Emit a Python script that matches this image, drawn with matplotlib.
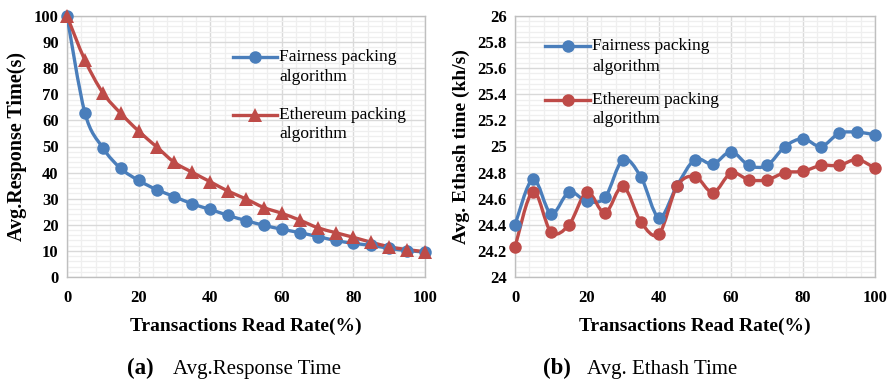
import numpy as np
import matplotlib
matplotlib.use("Agg")
import matplotlib.pyplot as plt
from matplotlib.path import Path
from matplotlib.patches import PathPatch
from matplotlib.lines import Line2D
from matplotlib.ticker import MultipleLocator, FormatStrFormatter

# ---------------- data ----------------
read_rate = [0, 5, 10, 15, 20, 25, 30, 35, 40, 45, 50, 55, 60, 65, 70, 75, 80, 85, 90, 95, 100]

resp_fair = [100, 62.9, 49.5, 41.6, 37.0, 33.5, 30.8, 28.0, 25.9, 23.6, 21.6, 19.8, 18.3, 17.0,
             15.5, 14.0, 12.9, 12.1, 11.0, 10.1, 9.6]
resp_eth = [100, 83.1, 70.6, 62.7, 55.9, 49.9, 43.9, 40.1, 36.5, 32.9, 29.9, 26.6, 24.4, 21.8,
            18.9, 17.0, 15.2, 13.3, 11.6, 10.5, 9.7]

ethash_fair = [24.40, 24.75, 24.485, 24.65, 24.58, 24.61, 24.90, 24.765, 24.455, 24.70, 24.90,
               24.865, 24.96, 24.855, 24.855, 25.00, 25.06, 25.00, 25.10, 25.11, 25.09]
ethash_eth = [24.23, 24.655, 24.345, 24.40, 24.65, 24.49, 24.695, 24.42, 24.33, 24.695, 24.77,
              24.647, 24.796, 24.745, 24.745, 24.80, 24.81, 24.855, 24.855, 24.90, 24.834]

label_fair = "Fairness packing\nalgorithm"
label_eth = "Ethereum packing\nalgorithm"

BLUE = "#4A7EBB"
RED = "#BE4B48"
SERIF = ["Liberation Serif", "DejaVu Serif"]
W, H = 891, 388
LW = 2.4


def smooth_path(x, y):
    """Excel-like smoothed line: cubic Bezier (Catmull-Rom) through the data points."""
    p = np.column_stack([x, y]).astype(float)
    n = len(p)
    verts = [p[0]]
    codes = [Path.MOVETO]
    for i in range(n - 1):
        p0 = p[i - 1] if i > 0 else p[i]
        p1 = p[i]
        p2 = p[i + 1]
        p3 = p[i + 2] if i + 2 < n else p[i + 1]
        c1 = p1 + (p2 - p0) / 6.0
        c2 = p2 - (p3 - p1) / 6.0
        verts += [c1, c2, p2]
        codes += [Path.CURVE4] * 3
    return Path(verts, codes)


def style_axes(ax, ymin, ymax, ymaj, ymin_step, fmt):
    ax.set_xlim(0, 100)
    ax.set_ylim(ymin, ymax)
    ax.xaxis.set_major_locator(MultipleLocator(20))
    ax.xaxis.set_minor_locator(MultipleLocator(4))
    ax.yaxis.set_major_locator(MultipleLocator(ymaj))
    ax.yaxis.set_minor_locator(MultipleLocator(ymin_step))
    ax.yaxis.set_major_formatter(FormatStrFormatter(fmt))
    ax.grid(which="minor", color="#efefef", linewidth=0.9, zorder=0)
    ax.grid(which="major", color="#d9d9d9", linewidth=1.0, zorder=0)
    ax.set_axisbelow(True)
    for s in ax.spines.values():
        s.set_color("#bfbfbf")
        s.set_linewidth(1.0)
    ax.tick_params(which="both", length=0)
    ax.tick_params(axis="x", pad=9)
    ax.tick_params(axis="y", pad=6)
    for lab in ax.get_xticklabels() + ax.get_yticklabels():
        lab.set_fontfamily(SERIF)
        lab.set_fontweight("bold")
        lab.set_fontsize(12)
    ax.set_xlabel("Transactions Read Rate(%)", fontfamily=SERIF, fontweight="bold",
                  fontsize=14, labelpad=9)


def draw_series(ax, x, y, color, marker, ms):
    patch = PathPatch(smooth_path(x, y), facecolor="none", edgecolor=color, linewidth=LW,
                      transform=ax.transData, zorder=3, capstyle="round", joinstyle="round")
    ax.add_patch(patch)
    ax.plot(x, y, linestyle="none", marker=marker, markersize=ms, color=color, zorder=4,
            markeredgewidth=0, clip_on=False)


def legend_entry(fig, x0, x1, y, text_y2, label, color, marker, ms):
    # handle line + marker, text aligned with the first line (Excel style)
    fy = 1 - y / H
    fig.add_artist(Line2D([x0 / W, x1 / W], [fy, fy], color=color, lw=LW,
                          transform=fig.transFigure))
    fig.add_artist(Line2D([(x0 + x1) / 2 / W], [fy], color=color, marker=marker, ms=ms,
                          mew=0, linestyle="none", transform=fig.transFigure))
    first, second = label.split("\n")
    fig.text((x1 + 2) / W, fy, first, fontfamily=SERIF, fontsize=12.5, va="center", ha="left")
    fig.text((x1 + 2) / W, 1 - text_y2 / H, second, fontfamily=SERIF, fontsize=12.5,
             va="center", ha="left")


fig = plt.figure(figsize=(W / 100, H / 100), dpi=100)
ax1 = fig.add_axes([67 / W, 1 - 277 / H, 358 / W, 261 / H])
ax2 = fig.add_axes([515 / W, 1 - 277 / H, 360 / W, 261 / H])

# ---------- (a) ----------
draw_series(ax1, read_rate, resp_fair, BLUE, "o", 9)
draw_series(ax1, read_rate, resp_eth, RED, "^", 9.5)
style_axes(ax1, 0, 100, 10, 2, "%g")
ax1.set_ylabel("Avg.Response Time(s)", fontfamily=SERIF, fontweight="bold", fontsize=14.5,
               labelpad=5)
legend_entry(fig, 233, 277, 57, 77, label_fair, BLUE, "o", 9)
legend_entry(fig, 233, 277, 115, 134, label_eth, RED, "^", 9.5)

# ---------- (b) ----------
draw_series(ax2, read_rate, ethash_fair, BLUE, "o", 9)
draw_series(ax2, read_rate, ethash_eth, RED, "o", 9)
style_axes(ax2, 24, 26, 0.2, 0.04, "%g")
ax2.set_ylabel("Avg. Ethash time (kh/s)", fontfamily=SERIF, fontweight="bold", fontsize=14,
               labelpad=5)
legend_entry(fig, 545, 590, 46, 67, label_fair, BLUE, "o", 9)
legend_entry(fig, 545, 590, 100, 119, label_eth, RED, "o", 9)

# ---------- captions ----------
cap_y = 1 - 374 / H
fig.text(127 / W, cap_y, "(a)", fontfamily=SERIF, fontweight="bold", fontsize=16.5,
         va="baseline", ha="left")
fig.text(173 / W, cap_y, "Avg.Response Time", fontfamily=SERIF, fontsize=15,
         va="baseline", ha="left")
fig.text(543 / W, cap_y, "(b)", fontfamily=SERIF, fontweight="bold", fontsize=16.5,
         va="baseline", ha="left")
fig.text(587 / W, cap_y, "Avg. Ethash Time", fontfamily=SERIF, fontsize=15,
         va="baseline", ha="left")

fig.savefig("out.png", dpi=100)
